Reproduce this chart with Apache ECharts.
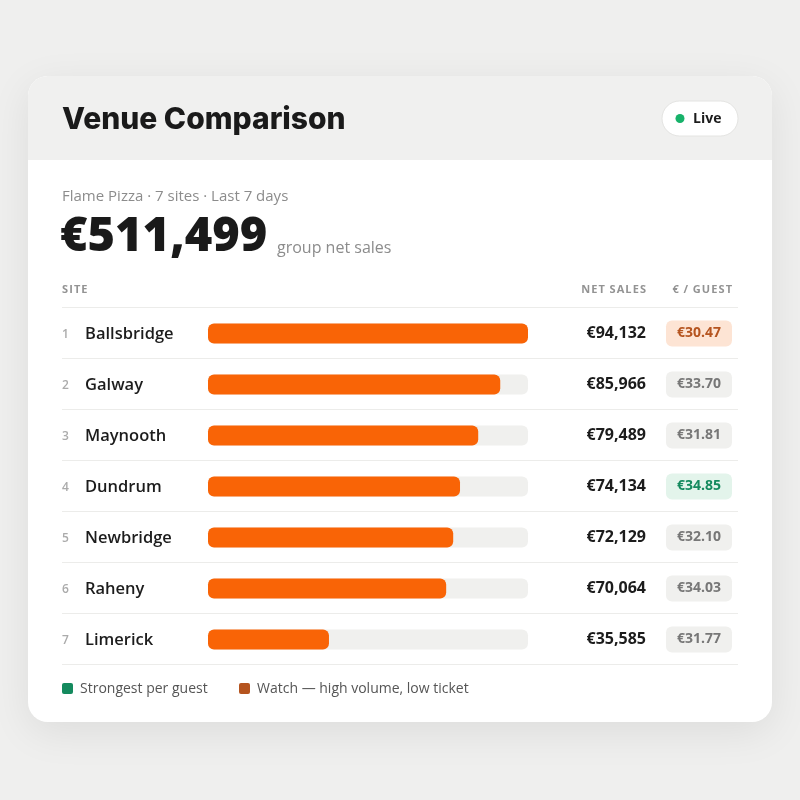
<!DOCTYPE html>
<html>
<head>
<meta charset="utf-8">
<script src="https://cdn.jsdelivr.net/npm/echarts@6/dist/echarts.min.js"></script>
<style>
  html, body { margin: 0; padding: 0; background: #efefee; }
  #chart { width: 800px; height: 800px; }
</style>
</head>
<body>
<div id="chart"></div>
<script>
  // data
  var sites = ['Ballsbridge', 'Galway', 'Maynooth', 'Dundrum', 'Newbridge', 'Raheny', 'Limerick'];
  var netSales = [94132, 85966, 79489, 74134, 72129, 70064, 35585];
  var perGuest = [30.47, 33.70, 31.81, 34.85, 32.10, 34.03, 31.77];
  var guestFlag = ['watch', '', '', 'strong', '', '', ''];
  var totalSales = 511499;

  var sansA = '"Open Sans", "Noto Sans", sans-serif';
  var rowTop = 307, rowH = 51;

  function eur(v) {
    return '€' + v.toLocaleString('en-US');
  }

  var chart = echarts.init(document.getElementById('chart'));

  var graphics = [
    { type: 'rect', z: -10, shape: { x: 28, y: 76, width: 744, height: 646, r: 20 },
      style: { fill: '#ffffff', shadowBlur: 40, shadowColor: 'rgba(0,0,0,0.08)', shadowOffsetY: 10 } },
    { type: 'rect', z: -9, shape: { x: 28, y: 76, width: 744, height: 84, r: [20, 20, 0, 0] },
      style: { fill: '#f0f0ef' } },
    { type: 'text', x: 62, y: 120, style: { text: 'Venue Comparison', fill: '#1a1a1a',
      font: '800 30px Inter, sans-serif', verticalAlign: 'middle' } },
    { type: 'rect', shape: { x: 662, y: 101, width: 76, height: 35, r: 17.5 },
      style: { fill: '#ffffff', stroke: '#e4e4e2', lineWidth: 1 } },
    { type: 'circle', shape: { cx: 680, cy: 118.5, r: 4.5 }, style: { fill: '#17b26a' } },
    { type: 'text', x: 693, y: 119.5, style: { text: 'Live', fill: '#1c1c1c',
      font: '700 14px ' + sansA, verticalAlign: 'middle' } },
    { type: 'text', x: 62, y: 196.5, style: { text: 'Flame Pizza · 7 sites · Last 7 days', fill: '#8c8c8c',
      font: '400 15px ' + sansA, verticalAlign: 'middle' } },
    { type: 'text', x: 60, y: 261, style: { text: eur(totalSales), fill: '#1a1a1a',
      font: '800 47px ' + sansA, verticalAlign: 'bottom' } },
    { type: 'text', x: 277, y: 248, style: { text: 'group net sales', fill: '#8c8c8c',
      font: '400 16px ' + sansA, verticalAlign: 'middle' } },
    { type: 'text', x: 62, y: 289.5, style: { text: 'S\u200AI\u200AT\u200AE', fill: '#939393',
      font: '700 11px ' + sansA, verticalAlign: 'middle' } },
    { type: 'text', x: 646, y: 289.5, style: { text: 'N\u200AE\u200AT\u2009 S\u200AA\u200AL\u200AE\u200AS', fill: '#939393',
      font: '700 11px ' + sansA, verticalAlign: 'middle', align: 'right' } },
    { type: 'text', x: 732, y: 289.5, style: { text: '€\u2009 /\u2009 G\u200AU\u200AE\u200AS\u200AT', fill: '#939393',
      font: '700 11px ' + sansA, verticalAlign: 'middle', align: 'right' } },
    { type: 'rect', shape: { x: 62, y: 683, width: 11, height: 11, r: 2 }, style: { fill: '#148a5e' } },
    { type: 'text', x: 80, y: 689.5, style: { text: 'Strongest per guest', fill: '#555555',
      font: '400 14px ' + sansA, verticalAlign: 'middle' } },
    { type: 'rect', shape: { x: 239, y: 683, width: 11, height: 11, r: 2 }, style: { fill: '#b5541f' } },
    { type: 'text', x: 257, y: 689.5, style: { text: 'Watch — high volume, low ticket', fill: '#555555',
      font: '400 14px ' + sansA, verticalAlign: 'middle' } }
  ];
  // row separators
  for (var i = 0; i <= sites.length; i++) {
    graphics.push({ type: 'line', shape: { x1: 62, y1: rowTop + i * rowH + 0.5, x2: 738, y2: rowTop + i * rowH + 0.5 },
      style: { stroke: '#ececea', lineWidth: 1 } });
  }

  var pillBase = { width: 66, height: 26, align: 'center', borderRadius: 6,
    fontFamily: sansA, fontSize: 14, fontWeight: 700, lineHeight: 26 };

  chart.setOption({
    animation: false,
    graphic: graphics,
    grid: { left: 208, right: 272, top: rowTop + 1, height: rowH * sites.length },
    xAxis: {
      type: 'value', min: 0, max: Math.max.apply(null, netSales),
      show: false
    },
    yAxis: [
      {
        type: 'category', data: sites, inverse: true,
        axisLine: { show: false }, axisTick: { show: false }, splitLine: { show: false },
        axisLabel: {
          align: 'left', margin: 146,
          formatter: function (v, idx) { return '{r|' + (idx + 1) + '}{n|' + v + '}'; },
          rich: {
            r: { width: 23, fontFamily: sansA, fontSize: 12, fontWeight: 600, color: '#ababab', padding: [2, 0, 0, 0] },
            n: { fontFamily: sansA, fontSize: 16.5, fontWeight: 600, color: '#1c1c1c', padding: [2, 0, 0, 0] }
          }
        }
      },
      {
        type: 'category', data: sites, inverse: true, position: 'right',
        axisLine: { show: false }, axisTick: { show: false }, splitLine: { show: false },
        axisLabel: {
          align: 'right', margin: 204,
          formatter: function (v, idx) {
            var key = guestFlag[idx] === 'watch' ? 'pw' : (guestFlag[idx] === 'strong' ? 'ps' : 'pn');
            return '{s|' + eur(netSales[idx]) + '}{g| }{' + key + '|€' + perGuest[idx].toFixed(2) + '}';
          },
          rich: {
            s: { fontFamily: sansA, fontSize: 16, fontWeight: 700, color: '#1c1c1c' },
            g: { width: 20 },
            pw: Object.assign({}, pillBase, { backgroundColor: '#fde4d4', color: '#b5541f' }),
            ps: Object.assign({}, pillBase, { backgroundColor: '#e3f4eb', color: '#148a5e' }),
            pn: Object.assign({}, pillBase, { backgroundColor: '#f0f0ee', color: '#777777' })
          }
        }
      }
    ],
    series: [{
      type: 'bar',
      data: netSales,
      barWidth: 20,
      showBackground: true,
      backgroundStyle: { color: '#f0f0ee', borderRadius: 6 },
      itemStyle: { color: '#f96406', borderRadius: 6 }
    }]
  });
</script>
</body>
</html>
